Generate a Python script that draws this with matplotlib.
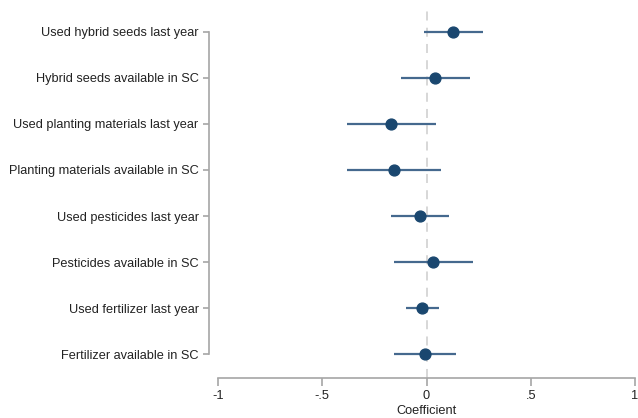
import matplotlib
matplotlib.use("Agg")
import matplotlib.pyplot as plt

labels = ["Used hybrid seeds last year", "Hybrid seeds available in SC",
          "Used planting materials last year", "Planting materials available in SC",
          "Used pesticides last year", "Pesticides available in SC",
          "Used fertilizer last year", "Fertilizer available in SC"]
coef = [0.129, 0.042, -0.168, -0.155, -0.031, 0.033, -0.020, -0.007]
ci_low = [-0.013, -0.123, -0.381, -0.381, -0.168, -0.155, -0.100, -0.155]
ci_high = [0.273, 0.210, 0.046, 0.070, 0.107, 0.222, 0.062, 0.141]
xticks = [-1, -0.5, 0, 0.5, 1]
xticklabels = ["-1", "-.5", "0", ".5", "1"]

plt.rcParams['font.family'] = ['Liberation Sans', 'DejaVu Sans']
fig = plt.figure(figsize=(6.38, 4.18), dpi=100)
ax = fig.add_axes([218/638, 1-377.5/418, (635-218)/638, (377.5-8.5)/418])

ypos = list(range(1, len(labels)+1))
ax.axvline(0, color='#d4d4d4', lw=1.3, ls=(0, (5, 4)), zorder=0)
ax.hlines(ypos, ci_low, ci_high, color='#45698e', lw=1.6, zorder=2)
ax.plot(coef, ypos, 'o', color='#1a476f', ms=7.8, zorder=3)

ax.set_xlim(-1, 1)
ax.set_ylim(8.5, 0.5)
ax.set_xticks(xticks)
ax.set_xticklabels(xticklabels)
ax.set_yticks(ypos)
ax.set_yticklabels(labels)
for s in ['top', 'right']:
    ax.spines[s].set_visible(False)
gray = '#a6a6a6'
ax.spines['left'].set_position(('outward', 6.5))
ax.spines['left'].set_bounds(1, 8)
ax.spines['left'].set_color(gray)
ax.spines['bottom'].set_color(gray)
ax.spines['left'].set_linewidth(1.2)
ax.spines['bottom'].set_linewidth(1.2)
ax.tick_params(axis='y', length=4.5, width=1.2, color=gray, labelsize=9.2, labelcolor='#222222', pad=3)
ax.tick_params(axis='x', length=6, width=1.2, color=gray, labelsize=9.2, labelcolor='#222222', pad=3)
ax.set_xlabel("Coefficient", fontsize=9.2, color='#222222', labelpad=2)

fig.savefig("out.png", dpi=100)
